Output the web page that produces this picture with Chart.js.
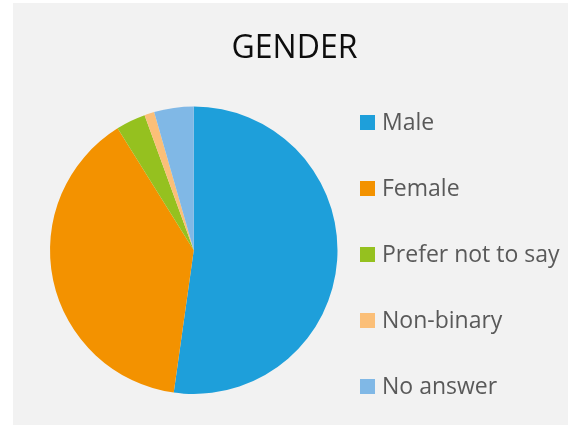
<!DOCTYPE html>
<html>
<head>
<meta charset="utf-8">
<script src="https://cdn.jsdelivr.net/npm/chart.js@4"></script>
<style>
  html, body {
    margin: 0;
    padding: 0;
    width: 568px;
    height: 425px;
    overflow: hidden;
    background: #ffffff;
    font-family: "Open Sans", sans-serif;
  }
  #panel {
    position: absolute;
    left: 13px;
    top: 3px;
    width: 555px;
    height: 422px;
    background: #f2f2f2;
  }
  #chartBox {
    position: absolute;
    left: 0;
    top: 0;
    width: 555px;
    height: 422px;
  }
  #title {
    position: absolute;
    left: 131px;
    width: 301px;
    top: 26.5px;
    text-align: center;
    font-size: 32px;
    line-height: 32px;
    color: #0d0d0d;
  }
  #legend {
    position: absolute;
    left: 347px;
    top: 86.5px;
  }
  .legend-row {
    display: flex;
    align-items: center;
    height: 66px;
  }
  .legend-box {
    width: 15px;
    height: 15px;
    margin-right: 7px;
  }
  .legend-text {
    font-size: 23px;
    line-height: 23px;
    color: #595959;
    white-space: nowrap;
    position: relative;
    top: -1px;
  }
</style>
</head>
<body>
<div id="panel">
  <div id="chartBox"><canvas id="chart"></canvas></div>
  <div id="title">GENDER</div>
  <div id="legend"></div>
</div>
<script>
const categories = ["Male", "Female", "Prefer not to say", "Non-binary", "No answer"];
const counts = [47, 35, 3, 1, 4];
const sliceColors = ["#1e9fda", "#f39200", "#95c11f", "#fbbf78", "#80b8e6"];

const ctx = document.getElementById("chart").getContext("2d");

const chart = new Chart(ctx, {
  type: "pie",
  data: {
    labels: categories,
    datasets: [
      {
        data: counts,
        backgroundColor: sliceColors,
        borderWidth: 0,
      },
    ],
  },
  options: {
    responsive: true,
    maintainAspectRatio: false,
    animation: false,
    layout: {
      padding: { left: 37, right: 230.5, top: 103.5, bottom: 31 },
    },
    plugins: {
      legend: { display: false },
      tooltip: { enabled: false },
    },
  },
});

// legend built from the chart's own label items
const legendDiv = document.getElementById("legend");
const items = chart.options.plugins.legend.labels.generateLabels(chart);
items.forEach((item) => {
  const row = document.createElement("div");
  row.className = "legend-row";
  const box = document.createElement("span");
  box.className = "legend-box";
  box.style.background = item.fillStyle;
  const text = document.createElement("span");
  text.className = "legend-text";
  text.textContent = item.text;
  row.appendChild(box);
  row.appendChild(text);
  legendDiv.appendChild(row);
});
</script>
</body>
</html>
